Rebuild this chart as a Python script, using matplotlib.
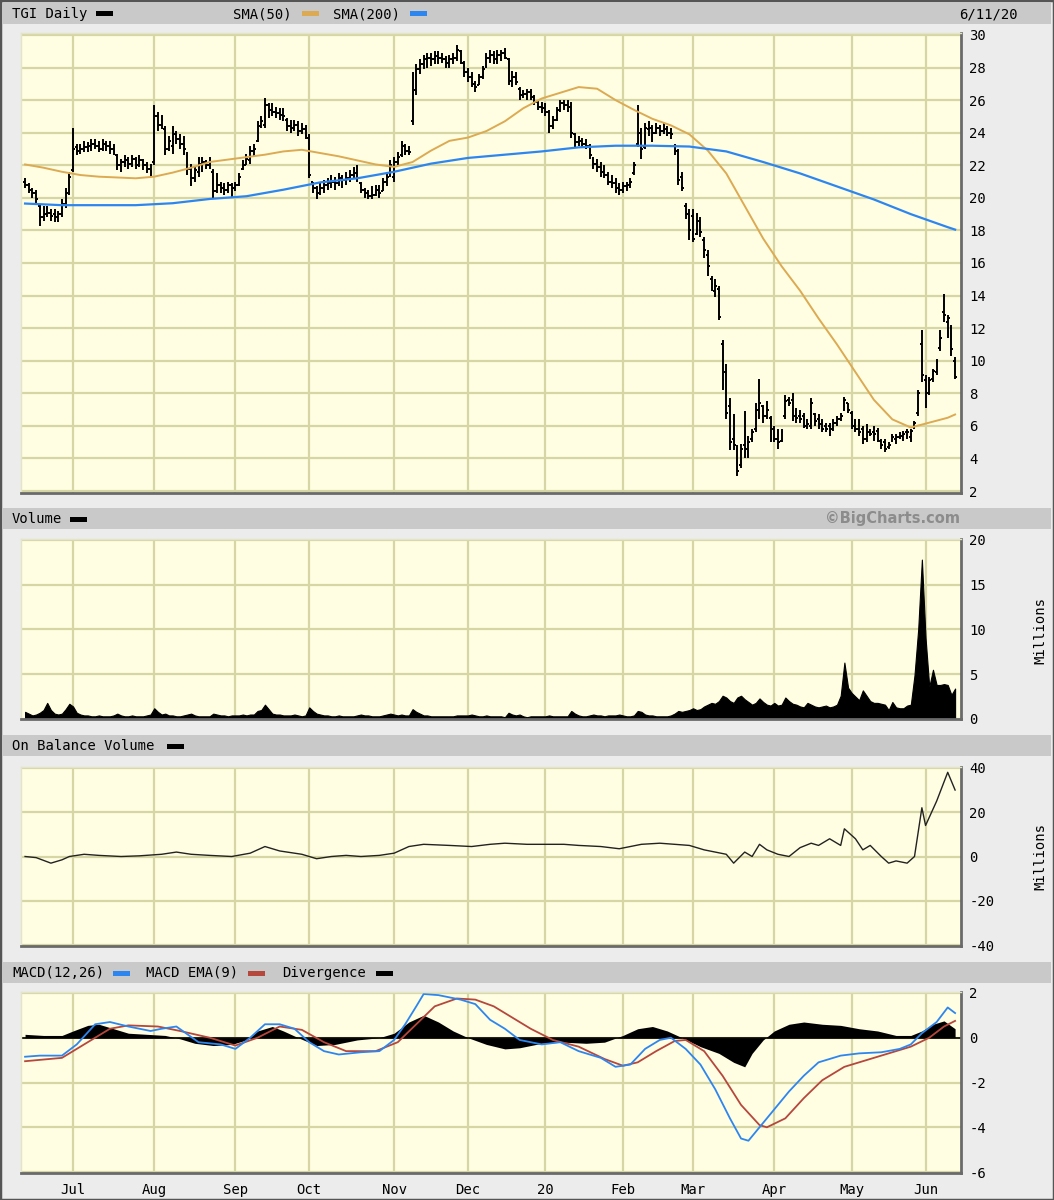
import matplotlib
matplotlib.use("Agg")
import matplotlib.pyplot as plt
from matplotlib.patches import Rectangle
import numpy as np
import pandas as pd

plt.rcParams["font.family"] = ["DejaVu Sans Mono"]
plt.rcParams["axes.unicode_minus"] = False

# trading calendar 6/12/19 .. 6/11/20
holidays = ["2019-07-04", "2019-09-02", "2019-11-28", "2019-12-25", "2020-01-01",
            "2020-01-20", "2020-02-17", "2020-04-10", "2020-05-25"]
dates = pd.bdate_range("2019-06-12", "2020-06-11")
dates = dates[~dates.isin(pd.to_datetime(holidays))]

# daily OHLC, one row per month
opens = [
    21.0, 20.8, 20.5, 20.3, 19.5, 18.8, 19.0, 19.1, 19.0, 18.8, 19.0, 19.6, 20.4,
    21.7, 23.1, 22.9, 23.0, 23.1, 23.2, 23.3, 23.2, 23.0, 23.3, 23.2, 23.0, 22.6, 22.0, 22.2, 22.3, 22.1, 22.4, 22.0, 22.3, 22.0, 21.8,
    22.2, 25.0, 24.5, 24.2, 23.0, 23.2, 23.9, 23.6, 23.3, 22.6, 21.8, 21.2, 21.6, 22.1, 22.2, 22.0, 21.6, 20.4, 20.8, 20.6, 20.5, 20.8,
    20.6, 20.8, 21.8, 22.0, 22.3, 22.9, 23.5, 24.4, 24.5, 25.7, 25.4, 25.3, 25.2, 25.1, 24.8, 24.4, 24.3, 24.5, 24.1, 24.2,
    23.7, 21.0, 20.6, 20.3, 20.6, 20.8, 20.9, 21.0, 20.9, 21.2, 21.1, 21.2, 21.4, 21.5, 20.9, 20.5, 20.3, 20.1, 20.2, 20.5, 20.4, 21.0, 21.4,
    21.3, 22.2, 22.6, 23.2, 22.9, 24.7, 26.6, 27.9, 28.2, 28.5, 28.6, 28.5, 28.7, 28.6, 28.5, 28.3, 28.5, 28.6, 29.0, 28.3,
    27.7, 27.4, 27.0, 26.9, 27.4, 28.1, 28.6, 28.8, 28.5, 28.8, 28.9, 28.5, 27.2, 27.4, 26.7, 26.3, 26.4, 26.5, 26.2, 25.9, 25.6,
    25.5, 25.3, 24.4, 24.8, 25.4, 25.8, 25.7, 25.6, 23.9, 23.4, 23.5, 23.3, 23.2, 22.4, 22.1, 21.9, 21.6, 21.4, 21.0, 20.9, 20.6,
    20.5, 20.7, 20.8, 21.5, 23.3, 23.9, 23.1, 24.2, 24.3, 24.0, 24.3, 24.1, 24.2, 24.0, 23.2, 22.9, 21.3, 19.5, 19.1,
    18.9, 17.8, 18.5, 17.4, 16.5, 15.0, 14.3, 14.4, 11.0, 9.3, 7.2, 5.2, 4.6, 3.6, 4.8, 5.0, 5.2, 5.8, 7.0, 7.2, 6.6, 6.5,
    5.8, 5.2, 5.1, 6.6, 7.6, 7.6, 6.9, 6.6, 6.6, 6.3, 6.0, 6.7, 6.4, 6.1, 6.0, 6.0, 5.8, 6.2, 6.4, 7.0, 7.4,
    6.8, 6.1, 5.8, 5.8, 5.2, 5.6, 5.6, 5.7, 5.1, 5.0, 4.7, 5.1, 5.2, 5.3, 5.3, 5.6, 5.3, 5.9, 6.8, 11.0,
    8.8, 8.0, 8.9, 9.3, 10.8, 13.0, 12.4, 12.0, 10.0,
]
highs = [
    21.2, 20.9, 20.6, 20.5, 19.6, 19.5, 19.5, 19.3, 19.3, 19.2, 19.9, 20.6, 21.6,
    24.3, 23.3, 23.3, 23.5, 23.4, 23.6, 23.6, 23.5, 23.6, 23.5, 23.5, 23.3, 22.7, 22.4, 22.6, 22.5, 22.6, 22.5, 22.6, 22.4, 22.2, 22.1,
    25.7, 25.3, 25.1, 24.4, 23.8, 24.4, 24.1, 23.9, 23.8, 22.8, 22.1, 21.9, 22.5, 22.5, 22.3, 22.5, 21.8, 21.5, 21.0, 20.9, 21.0, 20.9,
    21.0, 21.5, 22.3, 22.7, 23.2, 23.3, 24.7, 25.0, 26.1, 25.8, 25.8, 25.6, 25.5, 25.5, 24.9, 24.8, 24.8, 24.7, 24.6, 24.5,
    23.9, 21.0, 20.7, 21.0, 21.1, 21.2, 21.4, 21.3, 21.5, 21.4, 21.6, 21.7, 21.9, 22.0, 21.0, 20.6, 20.5, 20.7, 20.8, 20.8, 21.2, 21.6, 22.3,
    22.5, 22.8, 23.5, 23.3, 23.2, 27.7, 28.2, 28.5, 28.8, 28.9, 28.9, 29.0, 29.0, 28.9, 28.7, 28.8, 28.9, 29.4, 29.1, 28.4,
    28.0, 27.7, 27.2, 27.6, 28.1, 28.9, 29.1, 29.0, 29.1, 29.1, 29.2, 28.6, 27.8, 27.7, 26.8, 26.6, 26.7, 26.7, 26.3, 26.0, 25.9,
    25.8, 25.4, 25.0, 25.6, 26.0, 26.0, 26.0, 25.9, 24.0, 23.8, 23.7, 23.6, 23.3, 22.5, 22.4, 22.2, 22.0, 21.6, 21.4, 21.2, 20.9,
    21.0, 21.0, 21.2, 22.2, 25.7, 24.3, 24.6, 24.7, 24.5, 24.6, 24.5, 24.6, 24.4, 24.3, 23.3, 23.0, 21.6, 19.7, 19.3,
    19.3, 19.1, 18.8, 17.6, 16.8, 15.2, 15.0, 14.6, 11.3, 9.8, 7.7, 6.7, 4.8, 4.9, 6.9, 5.4, 5.8, 7.4, 8.9, 7.3, 7.5, 6.6,
    6.0, 5.8, 5.8, 7.9, 7.8, 8.0, 7.1, 7.0, 6.8, 6.4, 7.7, 6.8, 6.7, 6.4, 6.2, 6.2, 6.4, 6.6, 6.8, 7.8, 7.4,
    6.9, 6.4, 6.4, 6.0, 6.1, 5.8, 6.0, 5.9, 5.2, 5.2, 5.0, 5.5, 5.5, 5.6, 5.7, 5.8, 5.8, 6.3, 8.2, 11.9,
    9.1, 9.0, 9.5, 10.1, 11.9, 14.1, 12.8, 12.2, 10.2,
]
lows = [
    20.6, 20.3, 20.0, 19.7, 18.3, 18.6, 18.8, 18.6, 18.5, 18.5, 18.8, 19.4, 20.2,
    21.6, 22.6, 22.7, 22.8, 22.8, 22.9, 23.0, 22.8, 22.9, 22.9, 22.7, 22.6, 21.7, 21.6, 21.9, 21.8, 21.9, 21.8, 21.9, 21.7, 21.5, 21.3,
    22.0, 24.1, 24.2, 22.6, 22.9, 22.7, 23.3, 23.0, 22.6, 21.4, 20.7, 21.0, 21.3, 21.6, 21.8, 21.8, 20.0, 20.3, 20.3, 20.2, 20.3, 20.0,
    20.4, 20.7, 21.7, 22.0, 22.1, 22.5, 23.4, 24.3, 24.3, 24.9, 25.0, 24.9, 24.8, 24.7, 24.1, 24.0, 24.1, 23.8, 23.9, 23.6,
    21.2, 20.3, 19.9, 20.2, 20.3, 20.5, 20.6, 20.5, 20.7, 20.6, 20.8, 21.0, 21.2, 21.0, 20.3, 20.0, 19.9, 19.9, 20.1, 20.0, 20.4, 20.7, 21.3,
    21.0, 22.0, 22.5, 22.6, 22.6, 24.5, 26.3, 27.6, 27.9, 28.0, 28.1, 28.2, 28.2, 28.3, 28.0, 28.0, 28.2, 28.4, 28.2, 27.4,
    27.1, 26.8, 26.5, 26.9, 27.3, 28.0, 28.3, 28.2, 28.2, 28.4, 28.5, 26.9, 26.8, 26.9, 26.0, 26.1, 26.0, 26.0, 25.7, 25.4, 25.2,
    25.0, 24.0, 24.2, 24.7, 25.3, 25.4, 25.3, 23.7, 23.1, 23.2, 23.1, 23.0, 22.4, 21.8, 21.6, 21.3, 21.2, 20.8, 20.6, 20.3, 20.2,
    20.3, 20.4, 20.6, 21.4, 23.1, 22.4, 23.0, 23.8, 23.4, 23.9, 23.8, 23.9, 23.8, 23.6, 22.6, 20.8, 20.4, 18.7, 17.4,
    17.3, 17.7, 17.6, 16.3, 15.2, 14.3, 13.9, 12.5, 8.2, 6.4, 4.5, 4.5, 2.9, 3.4, 4.0, 4.0, 5.0, 5.6, 6.4, 6.2, 6.4, 5.0,
    5.0, 4.6, 5.0, 6.4, 7.2, 6.3, 6.2, 6.2, 5.9, 5.8, 5.8, 6.0, 5.8, 5.6, 5.6, 5.4, 5.7, 6.0, 6.3, 6.9, 6.8,
    5.8, 5.6, 5.4, 4.9, 5.0, 5.4, 5.1, 5.0, 4.6, 4.4, 4.6, 5.0, 4.9, 5.2, 5.1, 5.2, 5.0, 5.8, 6.6, 8.7,
    7.1, 7.9, 8.7, 9.1, 10.6, 12.4, 11.4, 10.3, 8.9,
]
closes = [
    20.8, 20.5, 20.3, 19.9, 18.8, 19.0, 19.1, 18.9, 18.8, 19.0, 19.6, 20.3, 21.3,
    23.0, 22.9, 23.0, 23.1, 23.2, 23.3, 23.2, 23.0, 23.3, 23.2, 23.0, 22.8, 22.0, 22.2, 22.3, 22.1, 22.4, 22.0, 22.3, 22.0, 21.8, 21.6,
    25.0, 24.5, 24.8, 23.0, 23.5, 23.9, 23.6, 23.3, 23.0, 21.8, 21.2, 21.7, 22.1, 22.2, 22.0, 22.2, 20.4, 20.8, 20.6, 20.5, 20.8, 20.6,
    20.8, 21.3, 22.0, 22.4, 22.9, 23.0, 24.4, 24.7, 25.7, 25.4, 25.3, 25.2, 25.1, 25.0, 24.4, 24.3, 24.5, 24.1, 24.2, 23.8,
    21.4, 20.6, 20.3, 20.6, 20.8, 20.9, 21.0, 20.9, 21.2, 21.1, 21.2, 21.4, 21.5, 21.2, 20.5, 20.3, 20.1, 20.2, 20.5, 20.3, 21.0, 21.3, 22.0,
    22.2, 22.5, 23.2, 22.9, 22.8, 26.5, 27.9, 28.2, 28.5, 28.6, 28.5, 28.7, 28.6, 28.5, 28.3, 28.5, 28.6, 29.1, 28.3, 27.7,
    27.4, 27.0, 26.8, 27.4, 27.9, 28.6, 28.8, 28.5, 28.8, 28.9, 28.6, 27.2, 27.4, 27.1, 26.3, 26.4, 26.5, 26.2, 25.9, 25.6, 25.5,
    25.3, 24.4, 24.8, 25.4, 25.8, 25.7, 25.6, 24.0, 23.4, 23.5, 23.3, 23.2, 22.6, 22.1, 21.9, 21.6, 21.4, 21.0, 20.9, 20.6, 20.5,
    20.7, 20.8, 21.0, 22.0, 24.0, 23.0, 24.3, 24.3, 24.0, 24.3, 24.1, 24.2, 24.0, 23.9, 23.0, 21.1, 20.6, 19.0, 18.0,
    17.5, 18.6, 17.9, 16.8, 15.8, 14.7, 14.6, 12.7, 8.8, 6.8, 5.0, 4.8, 3.2, 4.6, 4.6, 5.0, 5.6, 7.0, 7.4, 6.6, 7.0, 5.2,
    5.2, 5.0, 5.6, 7.5, 7.4, 6.6, 6.5, 6.4, 6.0, 6.1, 7.4, 6.3, 6.0, 5.8, 5.8, 5.6, 6.2, 6.4, 6.6, 7.6, 7.0,
    6.0, 5.8, 5.6, 5.2, 5.6, 5.5, 5.5, 5.2, 4.8, 4.6, 4.8, 5.3, 5.3, 5.4, 5.5, 5.6, 5.7, 6.2, 8.0, 9.1,
    7.8, 8.8, 9.4, 9.9, 11.4, 12.8, 12.6, 10.7, 9.0,
]
volume = [  # millions
    0.8, 0.6, 0.4, 0.5, 0.7, 1.0, 1.8, 1.0, 0.6, 0.5, 0.6, 1.1, 1.7,
    1.4, 0.7, 0.5, 0.4, 0.4, 0.3, 0.3, 0.4, 0.3, 0.3, 0.3, 0.4, 0.6, 0.4, 0.3, 0.3, 0.4, 0.3, 0.3, 0.3, 0.4, 0.5,
    1.2, 0.8, 0.5, 0.6, 0.4, 0.4, 0.3, 0.3, 0.4, 0.5, 0.6, 0.4, 0.3, 0.3, 0.3, 0.3, 0.6, 0.5, 0.4, 0.4, 0.3, 0.4,
    0.4, 0.4, 0.5, 0.4, 0.5, 0.5, 0.9, 1.0, 1.6, 1.1, 0.6, 0.5, 0.5, 0.4, 0.4, 0.4, 0.5, 0.4, 0.3, 0.4,
    1.3, 0.9, 0.6, 0.5, 0.4, 0.4, 0.3, 0.3, 0.4, 0.3, 0.3, 0.3, 0.3, 0.4, 0.5, 0.4, 0.4, 0.3, 0.3, 0.3, 0.4, 0.5, 0.6,
    0.5, 0.4, 0.5, 0.4, 0.4, 1.1, 0.8, 0.6, 0.4, 0.4, 0.3, 0.3, 0.3, 0.3, 0.3, 0.3, 0.3, 0.4, 0.4, 0.4,
    0.4, 0.5, 0.4, 0.3, 0.3, 0.4, 0.3, 0.3, 0.3, 0.3, 0.2, 0.7, 0.5, 0.4, 0.5, 0.3, 0.2, 0.3, 0.3, 0.3, 0.3,
    0.3, 0.4, 0.3, 0.3, 0.3, 0.3, 0.3, 0.9, 0.6, 0.4, 0.3, 0.3, 0.4, 0.5, 0.4, 0.4, 0.3, 0.4, 0.4, 0.4, 0.5,
    0.4, 0.3, 0.3, 0.4, 0.9, 0.8, 0.5, 0.4, 0.4, 0.3, 0.3, 0.3, 0.3, 0.4, 0.6, 0.9, 0.8, 0.9, 1.0,
    1.2, 1.0, 1.1, 1.4, 1.6, 1.8, 1.7, 2.0, 2.6, 2.4, 2.0, 1.8, 2.4, 2.6, 2.2, 1.9, 1.6, 1.8, 2.3, 1.9, 1.6, 1.5,
    1.8, 1.5, 1.6, 2.4, 2.0, 1.7, 1.6, 1.4, 1.3, 1.8, 1.6, 1.4, 1.3, 1.4, 1.5, 1.3, 1.4, 1.6, 2.6, 6.3, 3.5,
    2.9, 2.5, 2.1, 3.2, 2.6, 2.0, 1.8, 1.8, 1.7, 1.6, 1.0, 1.9, 1.3, 1.2, 1.2, 1.5, 1.6, 4.9, 10.0, 17.8,
    9.0, 3.6, 5.5, 3.8, 3.8, 3.9, 3.8, 2.7, 3.4,
]

# moving averages
sma50_days = list(range(0, 251, 5)) + [252]
sma50 = [22.05, 21.85, 21.6, 21.4, 21.3, 21.25, 21.2, 21.3, 21.55, 21.85, 22.2, 22.35,
         22.5, 22.65, 22.85, 22.95, 22.75, 22.55, 22.3, 22.05, 21.9, 22.2, 22.9, 23.5,
         23.7, 24.1, 24.7, 25.5, 26.1, 26.45, 26.8, 26.7, 26.0, 25.4, 24.85, 24.45,
         23.9, 22.9, 21.5, 19.5, 17.5, 15.8, 14.3, 12.6, 11.0, 9.3, 7.6, 6.4, 5.9, 6.2,
         6.5, 6.7]
sma200_days = list(range(0, 251, 10)) + [252]
sma200 = [19.65, 19.55, 19.55, 19.55, 19.67, 19.93, 20.1, 20.5, 20.95, 21.2, 21.6,
          22.1, 22.45, 22.65, 22.85, 23.1, 23.2, 23.2, 23.15, 22.85, 22.2, 21.5, 20.7,
          19.9, 19.0, 18.2, 18.05]

# on balance volume (millions)
obv_days = [0, 3, 7, 10, 12, 16, 20, 26, 31, 37, 41, 45, 50, 56, 61, 65, 69, 75, 79, 83,
            87, 91, 96, 100, 104, 108, 115, 121, 126, 130, 136, 141, 146, 150, 156, 161,
            167, 172, 176, 180, 184, 187, 190, 192, 195, 197, 199, 201, 204, 207, 210,
            213, 215, 218, 221, 222, 225, 227, 229, 232, 234, 236, 239, 241, 243, 244,
            247, 250, 252]
obv = [0, -0.5, -3, -1.5, 0, 1, 0.5, 0, 0.3, 1, 2, 1, 0.5, 0, 1.5, 4.5, 2.5, 1, -1, 0,
       0.5, 0, 0.5, 1.5, 4.5, 5.5, 5.0, 4.5, 5.5, 6.0, 5.5, 5.5, 5.5, 5.0, 4.5, 3.5,
       5.5, 6.0, 5.5, 5.0, 3.0, 2.0, 1.0, -3, 2.0, 0, 5.5, 3, 1, 0, 4,
       6, 5, 8, 5, 12.5, 8, 3, 5, 0, -3, -2, -3, 0, 22, 14,
       25, 38, 30]

# MACD(12,26), signal EMA(9), divergence
macd_days = [0, 4, 10, 14, 19, 23, 28, 34, 37, 41, 47, 53, 57, 61, 65, 69, 73, 77, 81,
             85, 91, 96, 100, 103, 106, 108, 112, 118, 122, 126, 130, 134, 140, 145,
             150, 156, 160, 164, 168, 172, 175, 179, 183, 187, 191, 194, 196, 199, 203,
             207, 211, 215, 221, 226, 232, 237, 240, 243, 247, 250, 252]
macd = [-0.85, -0.8, -0.8, -0.3, 0.6, 0.7, 0.5, 0.3, 0.4, 0.5, -0.2, -0.3, -0.5, 0, 0.6,
        0.6, 0.4, -0.2, -0.6, -0.75, -0.65, -0.6, -0.1, 0.6, 1.4, 1.95, 1.9, 1.7, 1.5,
        0.8, 0.4, -0.1, -0.3, -0.2, -0.6, -0.9, -1.3, -1.2, -0.5, -0.1, 0.0, -0.5, -1.2,
        -2.3, -3.6, -4.5, -4.6, -4.0, -3.2, -2.4, -1.7, -1.1, -0.8, -0.7, -0.65, -0.5,
        -0.3, 0.2, 0.7, 1.35, 1.1]
sig_days = [0, 10, 16, 23, 28, 36, 42, 50, 57, 63, 69, 75, 81, 87, 95, 101, 106, 111,
            117, 122, 127, 132, 137, 143, 150, 157, 162, 166, 171, 176, 179, 184, 189,
            194, 199, 201, 206, 211, 216, 222, 228, 234, 240, 245, 249, 252]
signal = [-1.05, -0.9, -0.3, 0.4, 0.55, 0.5, 0.3, 0.0, -0.35, 0.0, 0.5, 0.35, -0.2,
          -0.6, -0.6, -0.2, 0.6, 1.4, 1.75, 1.7, 1.4, 0.9, 0.4, -0.1, -0.4, -0.95,
          -1.25, -1.1, -0.6, -0.15, -0.1, -0.6, -1.7, -3.0, -3.9, -4.0, -3.6, -2.7,
          -1.9, -1.3, -1.0, -0.7, -0.4, 0.0, 0.5, 0.75]
div_days = [0, 5, 10, 13, 17, 20, 24, 28, 33, 38, 42, 46, 51, 56, 60, 63, 67, 70, 74,
            79, 84, 90, 96, 100, 104, 108, 112, 116, 120, 125, 130, 134, 140, 146, 152,
            157, 162, 166, 170, 174, 178, 183, 188, 192, 195, 197, 200, 203, 207, 211,
            216, 221, 226, 231, 236, 240, 243, 246, 249, 252]
divergence = [0.15, 0.1, 0.1, 0.3, 0.55, 0.6, 0.4, 0.2, 0.15, 0.1, -0.05, -0.25, -0.35,
              -0.3, -0.1, 0.3, 0.5, 0.3, 0.0, -0.35, -0.3, -0.1, 0.0, 0.2, 0.7, 1.0, 0.7,
              0.3, 0.0, -0.3, -0.5, -0.45, -0.25, -0.2, -0.25, -0.2, 0.1, 0.4, 0.5, 0.3,
              0.0, -0.4, -0.7, -1.1, -1.3, -0.7, -0.1, 0.3, 0.6, 0.7, 0.6, 0.55, 0.4, 0.3,
              0.1, 0.1, 0.3, 0.6, 0.75, 0.4]

month_labels = ["Jul", "Aug", "Sep", "Oct", "Nov", "Dec", "20", "Feb", "Mar", "Apr", "May", "Jun"]

# ---------------------------------------------------------------------------
W, H = 1054, 1200
BG = "#ececec"
PANEL = "#fffee2"
GRID = "#d6d6a4"
HEAD = "#c9c9c9"
ORANGE = "#dcaa52"
BLUE = "#2d86f0"
RED = "#b5473c"

fig = plt.figure(figsize=(W / 100, H / 100), dpi=100, facecolor=BG)


def box(l, t, r, b):
    return [l / W, 1 - b / H, (r - l) / W, (b - t) / H]


def px(x, y):
    return x / W, 1 - y / H


idx = np.arange(len(dates))
month_start = [np.where((dates.year == d.year) & (dates.month == d.month))[0][0]
               for d in pd.date_range("2019-07-01", "2020-06-01", freq="MS")]

ax_p = fig.add_axes(box(21, 33, 961, 493))
ax_v = fig.add_axes(box(21, 539, 961, 719))
ax_o = fig.add_axes(box(21, 767, 961, 946))
ax_m = fig.add_axes(box(21, 992, 961, 1173))

for ax in (ax_p, ax_v, ax_o, ax_m):
    ax.set_facecolor(PANEL)
    ax.set_xlim(-1.1, 253.6)
    ax.set_xticks(month_start)
    ax.set_xticklabels([])
    ax.yaxis.tick_right()
    ax.tick_params(axis="both", length=0, labelsize=10, pad=6)
    ax.grid(True, color=GRID, lw=1.6)
    ax.set_axisbelow(True)
    for s in ("top", "left"):
        ax.spines[s].set_color("#e4e4c8")
        ax.spines[s].set_linewidth(1.0)
    for s in ("bottom", "right"):
        ax.spines[s].set_color("#6a6a6a")
        ax.spines[s].set_linewidth(2.0)

# price bars
o = np.array(opens); h = np.array(highs); l = np.array(lows); c = np.array(closes)
ax_p.vlines(idx, l, h, color="black", lw=1.4)
ax_p.hlines(o, idx - 0.5, idx, color="black", lw=1.4)
ax_p.hlines(c, idx, idx + 0.5, color="black", lw=1.4)
ax_p.plot(sma50_days, sma50, color=ORANGE, lw=1.4)
ax_p.plot(sma200_days, sma200, color=BLUE, lw=1.6)
ax_p.set_ylim(1.88, 30.12)
ax_p.set_yticks(range(2, 31, 2))

# volume
ax_v.fill_between(idx, 0, volume, color="black", lw=0.8, edgecolor="black")
ax_v.set_ylim(0, 20.1)
ax_v.set_yticks([0, 5, 10, 15, 20])

# OBV
ax_o.plot(obv_days, obv, color="#222222", lw=1.0)
ax_o.set_ylim(-40.4, 40.4)
ax_o.set_yticks([-40, -20, 0, 20, 40])

# MACD
ax_m.fill_between(div_days, 0, divergence, color="black", lw=0)
ax_m.axhline(0, color="black", lw=1.2)
ax_m.plot(sig_days, signal, color=RED, lw=1.3)
ax_m.plot(macd_days, macd, color=BLUE, lw=1.3)
ax_m.set_ylim(-6.04, 2.04)
ax_m.set_yticks([-6, -4, -2, 0, 2])
ax_m.set_xticklabels(month_labels)
ax_m.tick_params(axis="x", pad=7)

# header bars and legends
for top in (3, 508, 735, 962):
    fig.add_artist(Rectangle(px(3, top + 21), 1048 / W, 21 / H, transform=fig.transFigure,
                             facecolor=HEAD, edgecolor="none", zorder=0))


def label(x, y, s, **kw):
    fig.text(*px(x, y), s, va="center", fontsize=10, **kw)


def swatch(x, y, color):
    fig.add_artist(Rectangle(px(x, y + 2.5), 17 / W, 5 / H, transform=fig.transFigure,
                             facecolor=color, edgecolor="none"))


label(12, 14, "TGI Daily"); swatch(96, 13, "black")
label(233, 14, "SMA(50)"); swatch(302, 13, ORANGE)
label(333, 14, "SMA(200)"); swatch(410, 13, BLUE)
label(1018, 14, "6/11/20", ha="right")

label(12, 519, "Volume"); swatch(70, 519, "black")
fig.text(*px(960, 519), "\u00a9BigCharts.com", ha="right", va="center", fontsize=10.5,
         family="DejaVu Sans", weight="bold", color="#8c8c8c")

label(12, 746, "On Balance Volume"); swatch(167, 746, "black")

label(12, 973, "MACD(12,26)"); swatch(113, 973, BLUE)
label(146, 973, "MACD EMA(9)"); swatch(248, 973, RED)
label(282, 973, "Divergence"); swatch(376, 973, "black")

for yc in (630, 856):
    fig.text(*px(1040, yc), "Millions", rotation=90, ha="center", va="center", fontsize=10)

fig.add_artist(Rectangle((0, 0), 1, 1, transform=fig.transFigure, fill=False,
                         edgecolor="#555555", lw=2.5))

fig.savefig("out.png", dpi=100, facecolor=BG)
